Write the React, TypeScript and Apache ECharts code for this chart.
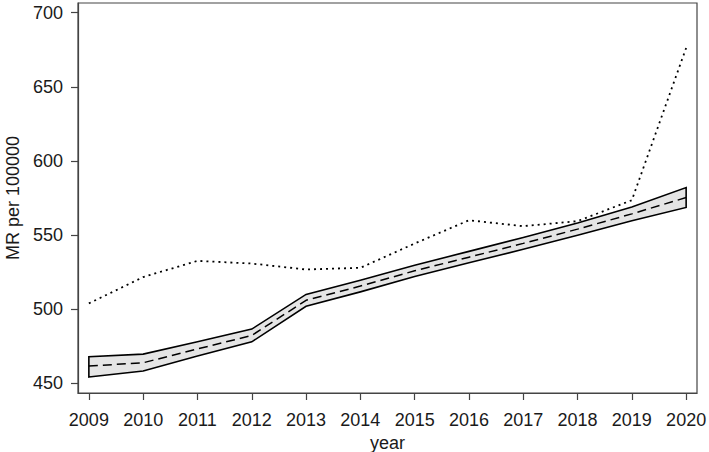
import React, { useEffect, useRef } from "react";
import * as echarts from "echarts";

const years = [2009, 2010, 2011, 2012, 2013, 2014, 2015, 2016, 2017, 2018, 2019, 2020];
const upperBand = [467.9, 469.7, 478.0, 486.6, 510.0, 519.6, 529.7, 539.0, 548.4, 558.2, 569.0, 582.0];
const lowerBand = [454.3, 458.3, 468.4, 478.0, 502.0, 511.7, 522.1, 531.3, 540.4, 549.9, 559.6, 568.6];
const fitted = [461.7, 463.9, 473.2, 482.3, 506.0, 515.6, 525.9, 535.1, 544.4, 554.0, 564.3, 575.3];
const observed = [503.9, 521.7, 532.6, 530.8, 526.8, 527.9, 544.3, 560.0, 556.0, 559.4, 573.5, 676.2];
const yTicks = [450, 500, 550, 600, 650, 700];

const FONT = "'Liberation Sans', Arial, Helvetica, sans-serif";
const TEXT = "#1a1a1a";
const FRAME = "#444444";

export default function App() {
  const ref = useRef<HTMLDivElement>(null);

  useEffect(() => {
    if (!ref.current) return;
    const chart = echarts.init(ref.current, undefined, { renderer: "svg" });

    chart.setOption({
      animation: false,
      backgroundColor: "#ffffff",
      grid: {
        left: 78,
        right: 12,
        top: 3,
        bottom: 59,
        containLabel: false,
        outerBoundsMode: "none",
        show: true,
        borderColor: FRAME,
        borderWidth: 1.2,
        backgroundColor: "transparent",
      },
      xAxis: {
        type: "value",
        min: 2008.8,
        max: 2020.2,
        name: "year",
        nameLocation: "middle",
        nameGap: 40,
        nameTextStyle: { fontSize: 18, color: TEXT, fontFamily: FONT },
        axisLine: { show: true, onZero: false, lineStyle: { color: FRAME, width: 1.2 } },
        axisTick: { show: true, length: 7, customValues: years, lineStyle: { color: FRAME, width: 1.2 } },
        axisLabel: {
          customValues: years,
          fontSize: 18,
          color: TEXT,
          fontFamily: FONT,
          margin: 18,
          formatter: (v: number) => String(v),
        },
        splitLine: { show: false },
      },
      yAxis: {
        type: "value",
        min: 443.5,
        max: 706.5,
        name: "MR per 100000",
        nameLocation: "middle",
        nameGap: 56,
        nameTextStyle: { fontSize: 18, color: TEXT, fontFamily: FONT },
        axisLine: { show: true, onZero: false, lineStyle: { color: FRAME, width: 1.2 } },
        axisTick: { show: true, length: 7, customValues: yTicks, lineStyle: { color: FRAME, width: 1.2 } },
        axisLabel: {
          customValues: yTicks,
          fontSize: 18,
          color: TEXT,
          fontFamily: FONT,
          margin: 15,
          formatter: (v: number) => String(v),
        },
        splitLine: { show: false },
      },
      series: [
        {
          type: "custom",
          name: "band",
          data: years.map((y, i) => [y, lowerBand[i], upperBand[i]]),
          encode: { x: 0, y: [1, 2] },
          silent: true,
          z: 1,
          renderItem: (params: any, api: any) => {
            if (params.dataIndex !== 0) return null;
            const lowerPts = years.map((y, i) => api.coord([y, lowerBand[i]]));
            const upperPts = years.map((y, i) => api.coord([y, upperBand[i]])).reverse();
            return {
              type: "polygon",
              shape: { points: [...lowerPts, ...upperPts] },
              style: { fill: "#e5e5e5", stroke: "#000000", lineWidth: 1.6, lineJoin: "miter" },
            };
          },
        },
        {
          type: "line",
          name: "fitted",
          data: years.map((y, i) => [y, fitted[i]]),
          symbol: "none",
          silent: true,
          lineStyle: { color: "#000000", width: 1.5, type: [9, 5] },
          z: 4,
        },
        {
          type: "line",
          name: "observed",
          data: years.map((y, i) => [y, observed[i]]),
          symbol: "none",
          silent: true,
          lineStyle: { color: "#000000", width: 1.8, type: [2, 4] },
          z: 5,
        },
      ],
    });

    return () => chart.dispose();
  }, []);

  return (
    <div
      ref={ref}
      style={{ position: "fixed", left: 0, top: 0, width: 709, height: 452, background: "#fff" }}
    />
  );
}
